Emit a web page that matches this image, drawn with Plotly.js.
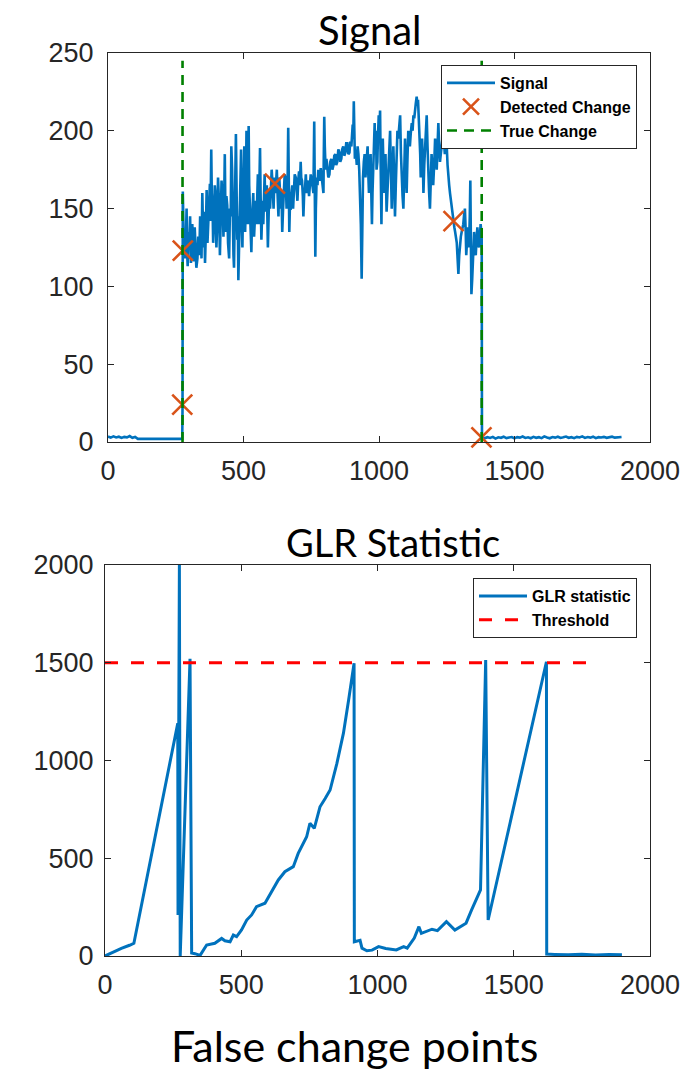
<!DOCTYPE html>
<html>
<head>
<meta charset="utf-8">
<script src="https://cdn.plot.ly/plotly-3.0.1.min.js"></script>
<style>
  html, body { margin: 0; padding: 0; background: #ffffff; }
  #chart { width: 692px; height: 1074px; }
</style>
</head>
<body>
<div id="chart"></div>
<script>
// ---- Signal (top panel) ----
const signalX = [
  0, 10, 20, 30, 40, 50, 60, 70, 80, 90,
  100, 110, 274, 275, 276, 278, 280, 282, 284, 287,
  290, 292, 294, 297, 300, 303, 306, 308, 311, 314,
  317, 320, 323, 326, 330, 333, 337, 340, 343, 345,
  348, 350, 352, 355, 358, 361, 364, 367, 370, 373,
  376, 378, 381, 383, 386, 388, 391, 394, 397, 400,
  403, 406, 410, 413, 416, 419, 423, 426, 429, 431,
  434, 437, 440, 443, 447, 450, 453, 455, 458, 460,
  463, 465, 468, 470, 472, 475, 477, 479, 481, 484,
  486, 488, 491, 493, 496, 498, 501, 503, 506, 508,
  511, 513, 516, 518, 519, 521, 524, 526, 529, 531,
  534, 536, 539, 542, 545, 548, 551, 553, 556, 558,
  561, 563, 566, 568, 571, 573, 576, 578, 581, 583,
  586, 588, 590, 592, 595, 598, 601, 604, 608, 611,
  614, 617, 620, 623, 626, 629, 632, 635, 638, 640,
  643, 646, 649, 652, 656, 659, 662, 665, 667, 669,
  671, 674, 677, 680, 683, 686, 689, 693, 696, 699,
  702, 705, 708, 711, 713, 716, 719, 721, 724, 727,
  730, 733, 736, 739, 742, 745, 748, 752, 755, 758,
  761, 763, 765, 767, 770, 773, 776, 779, 782, 785,
  788, 791, 795, 796, 798, 800, 803, 806, 809, 813,
  817, 820, 824, 828, 832, 835, 839, 842, 846, 850,
  854, 857, 861, 864, 868, 872, 876, 879, 883, 887,
  891, 894, 898, 900, 903, 905, 907, 909, 911, 914,
  918, 921, 924, 927, 930, 933, 936, 938, 941, 944,
  947, 950, 952, 955, 958, 960, 963, 966, 969, 971,
  974, 976, 979, 981, 984, 986, 989, 991, 994, 996,
  999, 1001, 1004, 1006, 1009, 1011, 1014, 1016, 1019, 1021,
  1024, 1026, 1028, 1031, 1035, 1038, 1041, 1044, 1047, 1050,
  1053, 1056, 1059, 1062, 1065, 1068, 1071, 1074, 1078, 1081,
  1084, 1087, 1090, 1093, 1096, 1099, 1102, 1105, 1108, 1111,
  1114, 1117, 1121, 1124, 1127, 1130, 1133, 1136, 1139, 1141,
  1144, 1146, 1149, 1152, 1154, 1157, 1159, 1162, 1164, 1167,
  1170, 1173, 1176, 1179, 1182, 1185, 1188, 1191, 1194, 1197,
  1200, 1204, 1207, 1210, 1213, 1216, 1219, 1222, 1225, 1228,
  1231, 1234, 1237, 1240, 1243, 1246, 1250, 1253, 1256, 1259,
  1262, 1265, 1268, 1271, 1275, 1278, 1281, 1284, 1287, 1290,
  1293, 1296, 1299, 1302, 1305, 1308, 1311, 1314, 1317, 1320,
  1322, 1325, 1327, 1330, 1332, 1335, 1337, 1339, 1341, 1344,
  1346, 1349, 1351, 1354, 1357, 1360, 1363, 1366, 1369, 1372,
  1375, 1377, 1379, 1380, 1390, 1400, 1410, 1420, 1430, 1440,
  1450, 1460, 1470, 1480, 1490, 1500, 1510, 1520, 1530, 1540,
  1550, 1560, 1570, 1580, 1590, 1600, 1610, 1620, 1630, 1640,
  1650, 1660, 1670, 1680, 1690, 1700, 1710, 1720, 1730, 1740,
  1750, 1760, 1770, 1780, 1790, 1800, 1810, 1820, 1830, 1840,
  1850, 1860, 1870, 1880, 1895
];
const signalY = [
  3.5, 2.8, 3.6, 2.9, 3.4, 2.6, 3.3, 3.0, 3.8, 2.7,
  3.2, 2.0, 2.0, 23, 161, 140, 123, 132, 118, 128,
  150, 122, 113, 135, 128, 145, 115, 122, 140, 126,
  116, 138, 128, 112, 118, 132, 120, 145, 135, 118,
  160, 140, 125, 148, 115, 135, 162, 128, 138, 152,
  166, 142, 188, 160, 150, 128, 140, 165, 158, 125,
  140, 170, 152, 120, 137, 168, 155, 132, 160, 185,
  135, 158, 152, 128, 118, 150, 145, 190, 175, 140,
  120, 112, 146, 160, 198, 155, 130, 145, 104, 128,
  150, 170, 188, 145, 125, 150, 170, 190, 135, 150,
  200, 162, 140, 175, 203, 165, 150, 135, 122, 140,
  148, 160, 132, 145, 155, 140, 162, 172, 140, 155,
  189, 160, 130, 142, 155, 140, 165, 172, 148, 160,
  165, 145, 125, 140, 162, 150, 160, 175, 163, 150,
  170, 160, 166, 175, 158, 145, 170, 160, 150, 162,
  135, 150, 160, 172, 168, 150, 155, 202, 170, 135,
  150, 150, 160, 165, 150, 158, 172, 170, 160, 155,
  168, 174, 165, 180, 170, 168, 158, 145, 160, 163,
  172, 160, 168, 166, 158, 165, 172, 168, 162, 160,
  206, 165, 119, 150, 170, 165, 175, 170, 168, 176,
  172, 165, 160, 180, 209, 190, 175, 182, 178, 170,
  172, 180, 182, 175, 178, 184, 185, 178, 180, 188,
  186, 180, 182, 188, 190, 184, 186, 192, 192, 185,
  186, 193, 190, 198, 204, 195, 219, 200, 182, 188,
  178, 190, 185, 175, 160, 140, 105, 140, 170, 180,
  185, 170, 175, 185, 190, 175, 160, 180, 185, 165,
  140, 160, 175, 190, 205, 185, 200, 175, 180, 195,
  210, 195, 213, 180, 140, 170, 195, 180, 160, 175,
  185, 165, 148, 160, 175, 190, 200, 175, 150, 170,
  190, 170, 145, 165, 185, 200, 195, 205, 210, 185,
  165, 158, 150, 175, 195, 178, 160, 182, 200, 195,
  190, 198, 205, 200, 210, 208, 215, 218, 222, 218,
  220, 212, 205, 185, 170, 185, 195, 178, 160, 178,
  190, 200, 210, 190, 170, 160, 150, 170, 185, 175,
  165, 180, 195, 185, 175, 190, 205, 190, 180, 185,
  190, 195, 200, 192, 185, 188, 190, 178, 168, 165,
  160, 155, 150, 146, 142, 138, 135, 132, 128, 118,
  108, 120, 130, 132, 135, 138, 140, 146, 150, 135,
  120, 130, 138, 130, 125, 145, 168, 130, 95, 105,
  115, 128, 135, 125, 120, 130, 138, 130, 125, 132,
  140, 136, 135, 3, 2.4, 3.1, 2.6, 3.3, 2.2, 3.0,
  2.7, 3.4, 2.5, 2.9, 3.2, 2.3, 3.1, 2.8, 3.5, 2.6,
  3.0, 2.4, 3.3, 2.7, 3.1, 2.5, 3.6, 2.9, 2.4, 3.2,
  2.8, 3.4, 2.6, 3.0, 3.5, 2.7, 3.1, 2.5, 3.3, 2.9,
  3.6, 2.6, 3.2, 2.8, 3.4, 2.5, 3.1, 2.9, 3.3, 2.7,
  3.0, 3.4, 2.8, 3.1, 3.2
];

// Detected change points
const detectX = [274, 276, 616, 1275, 1378];
const detectY = [24, 123, 166, 142, 3];

// True change points (vertical dashed lines)
const trueChangeAt = [275, 1379];
const trueChangeSpan = [0, 245];

// ---- GLR statistic (bottom panel) ----
const glrX = [0, 30, 60, 90, 106, 267, 268, 273, 276, 312, 318, 330, 349, 373, 403, 428, 440, 459, 471, 483, 501, 520, 538, 556, 587, 636, 660, 691, 709, 740, 752, 768, 789, 808, 826, 851, 875, 894, 914, 915, 936, 943, 961, 980, 1004, 1030, 1069, 1096, 1109, 1135, 1152, 1161, 1200, 1220, 1253, 1284, 1325, 1345, 1378, 1397, 1406, 1620, 1621, 1650, 1700, 1750, 1800, 1850, 1897];
const glrY = [0, 20, 39, 55, 65, 1190, 210, 2000, 0, 1520, 15, 12, 3, 56, 65, 90, 78, 73, 107, 99, 133, 184, 210, 252, 270, 389, 431, 457, 525, 610, 679, 653, 763, 806, 849, 985, 1140, 1309, 1498, 73, 80, 40, 27, 30, 48, 38, 31, 48, 40, 92, 150, 116, 137, 130, 176, 133, 168, 235, 338, 1514, 184, 1505, 10, 8, 6, 9, 5, 8, 6];

const thresholdX = [0, 1780];
const thresholdY = [1500, 1500];

// Axis ticks
const xTicks = [0, 500, 1000, 1500, 2000];
const signalTicks = [0, 50, 100, 150, 200, 250];
const glrTicks = [0, 500, 1000, 1500, 2000];

const BLUE = '#0072BD', ORANGE = '#D95319', GREEN = '#008000', RED = '#FF0000';
const AXC = '#262626';
const W = 692, H = 1074;

const traces = [
  { x: signalX, y: signalY, type: 'scatter', mode: 'lines', name: 'Signal',
    line: { color: BLUE, width: 2.6 }, xaxis: 'x', yaxis: 'y', legend: 'legend' },
  { x: detectX, y: detectY, type: 'scatter', mode: 'markers', name: 'Detected Change',
    marker: { symbol: 'x-thin', size: 20, color: ORANGE, line: { color: ORANGE, width: 2.6 } },
    cliponaxis: false, xaxis: 'x', yaxis: 'y', legend: 'legend' }
];
trueChangeAt.forEach((xc, i) => {
  traces.push({ x: [xc, xc], y: trueChangeSpan, type: 'scatter', mode: 'lines', name: 'True Change',
    showlegend: i === 0, legendgroup: 'tc',
    line: { color: GREEN, width: 2.6, dash: '10px,7px' }, xaxis: 'x', yaxis: 'y', legend: 'legend' });
});
traces.push(
  { x: glrX, y: glrY, type: 'scatter', mode: 'lines', name: 'GLR statistic',
    line: { color: BLUE, width: 3 }, xaxis: 'x2', yaxis: 'y2', legend: 'legend2' },
  { x: thresholdX, y: thresholdY, type: 'scatter', mode: 'lines', name: 'Threshold',
    line: { color: RED, width: 3, dash: '13px,13px' }, xaxis: 'x2', yaxis: 'y2', legend: 'legend2' }
);

function axisBase(extra) {
  return Object.assign({
    showline: true, mirror: 'ticks', linecolor: AXC, linewidth: 1,
    ticks: 'inside', ticklen: 6, tickwidth: 1, tickcolor: AXC,
    showgrid: false, zeroline: false, fixedrange: true,
    tickfont: { family: 'Liberation Sans, Arial, sans-serif', size: 27, color: AXC }
  }, extra);
}

const legendStyle = {
  bgcolor: '#ffffff', bordercolor: AXC, borderwidth: 1,
  font: { family: 'Liberation Sans, Arial, sans-serif', size: 16, color: '#000000', weight: 'bold' },
  xanchor: 'right', yanchor: 'top', xref: 'paper', yref: 'paper',
  itemwidth: 48, tracegroupgap: 0
};

const layout = {
  width: W, height: H,
  margin: { l: 0, r: 0, t: 0, b: 0 },
  paper_bgcolor: '#ffffff', plot_bgcolor: '#ffffff',
  xaxis: axisBase({ domain: [108 / W, 650 / W], range: [0, 2000], tickvals: xTicks, anchor: 'y', ticklabelstandoff: 5 }),
  yaxis: axisBase({ domain: [1 - 442 / H, 1 - 53 / H], range: [0, 250], tickvals: signalTicks, anchor: 'x', ticklabelstandoff: 8 }),
  xaxis2: axisBase({ domain: [105 / W, 650 / W], range: [0, 2000], tickvals: xTicks, anchor: 'y2', ticklabelstandoff: 5 }),
  yaxis2: axisBase({ domain: [1 - 956 / H, 1 - 565 / H], range: [0, 2000], tickvals: glrTicks, anchor: 'x2', ticklabelstandoff: 5 }),
  legend: Object.assign({}, legendStyle, { x: 637 / W, y: 1 - 65 / H }),
  legend2: Object.assign({}, legendStyle, { x: 637 / W, y: 1 - 578 / H }),
  annotations: [
    { text: 'Signal', x: 370 / W, y: 1 - 30 / H, xref: 'paper', yref: 'paper',
      showarrow: false, xanchor: 'center', yanchor: 'middle',
      font: { family: 'Lato, Noto Sans, sans-serif', size: 40, color: '#000000' } },
    { text: 'GLR Statistic', x: 393 / W, y: 1 - 542 / H, xref: 'paper', yref: 'paper',
      showarrow: false, xanchor: 'center', yanchor: 'middle',
      font: { family: 'Lato, Noto Sans, sans-serif', size: 38, color: '#000000' } },
    { text: 'False change points', x: 355 / W, y: 1 - 1045 / H, xref: 'paper', yref: 'paper',
      showarrow: false, xanchor: 'center', yanchor: 'middle',
      font: { family: 'Lato, Noto Sans, sans-serif', size: 43, color: '#000000' } }
  ],
  showlegend: true
};

Plotly.newPlot('chart', traces, layout, { staticPlot: true, displayModeBar: false });
</script>
</body>
</html>
